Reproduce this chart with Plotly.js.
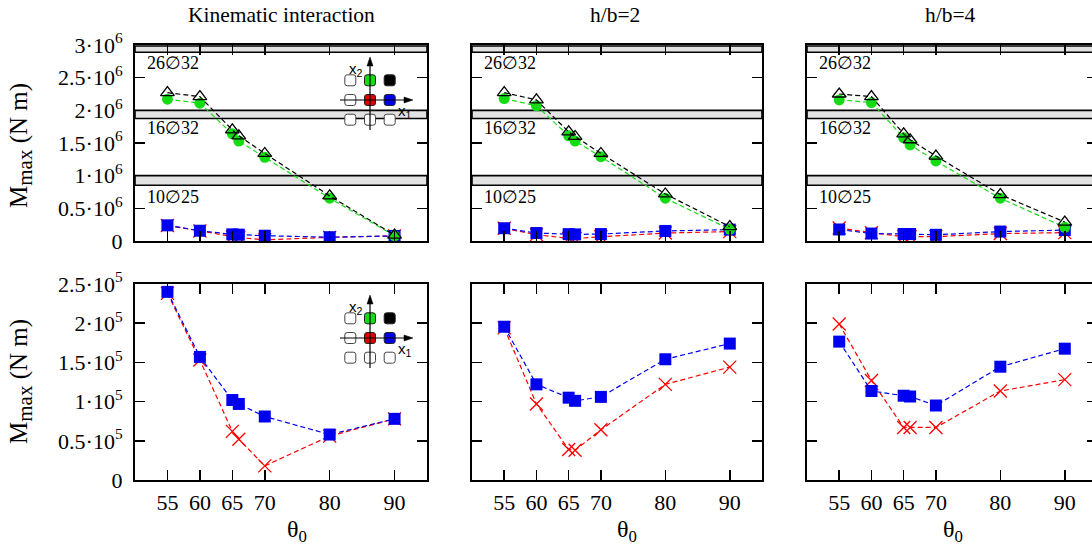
<!DOCTYPE html>
<html>
<head>
<meta charset="utf-8">
<script src="https://cdn.plot.ly/plotly-3.0.1.min.js"></script>
<style>
html,body{margin:0;padding:0;overflow:hidden;background:#fff;}
#chart{width:1100px;height:551px;}
</style>
</head>
<body>
<div id="chart"></div>
<script>
// ---------------- data ----------------
const theta = [55, 60, 65, 66, 70, 80, 90];
const xTicks = [55, 60, 65, 70, 80, 90];
const panelTitles = ["Kinematic interaction", "h/b=2", "h/b=4"];

// Kinematic interaction
const kinGreen = [2.17e6, 2.11e6, 1.64e6, 1.53e6, 1.28e6, 0.655e6, 0.08e6];
const kinBlack = [2.27e6, 2.21e6, 1.70e6, 1.61e6, 1.34e6, 0.69e6, 0.09e6];
const kinRed   = [2.38e5, 1.53e5, 0.62e5, 0.52e5, 0.18e5, 0.56e5, 0.78e5];
const kinBlue  = [2.40e5, 1.57e5, 1.02e5, 0.97e5, 0.81e5, 0.58e5, 0.78e5];
// h/b = 2
const hb2Green = [2.18e6, 2.07e6, 1.61e6, 1.53e6, 1.29e6, 0.655e6, 0.18e6];
const hb2Black = [2.27e6, 2.16e6, 1.67e6, 1.60e6, 1.34e6, 0.72e6, 0.22e6];
const hb2Red   = [1.94e5, 0.97e5, 0.39e5, 0.38e5, 0.64e5, 1.22e5, 1.44e5];
const hb2Blue  = [1.955e5, 1.22e5, 1.05e5, 1.01e5, 1.06e5, 1.54e5, 1.74e5];
// h/b = 4
const hb4Green = [2.16e6, 2.12e6, 1.58e6, 1.47e6, 1.225e6, 0.655e6, 0.21e6];
const hb4Black = [2.25e6, 2.21e6, 1.64e6, 1.55e6, 1.30e6, 0.71e6, 0.29e6];
const hb4Red   = [1.99e5, 1.27e5, 0.67e5, 0.67e5, 0.67e5, 1.135e5, 1.28e5];
const hb4Blue  = [1.765e5, 1.135e5, 1.075e5, 1.065e5, 0.95e5, 1.445e5, 1.675e5];

// capacity bands (N m) and labels
const bandLow  = [2.89e6, 1.875e6, 0.853e6];
const bandHigh = [2.985e6, 2.0e6, 1.0e6];
const bandLabels = ["26∅32", "16∅32", "10∅25"];
const bandLabelY = [2.72e6, 1.73e6, 0.67e6];

const topTickVals = [0, 0.5e6, 1e6, 1.5e6, 2e6, 2.5e6, 3e6];
const topTickText = ["0", "0.5·10<sup>6</sup>", "1·10<sup>6</sup>", "1.5·10<sup>6</sup>", "2·10<sup>6</sup>", "2.5·10<sup>6</sup>", "3·10<sup>6</sup>"];
const botTickVals = [0, 0.5e5, 1e5, 1.5e5, 2e5, 2.5e5];
const botTickText = ["0", "0.5·10<sup>5</sup>", "1·10<sup>5</sup>", "1.5·10<sup>5</sup>", "2·10<sup>5</sup>", "2.5·10<sup>5</sup>"];

// ---------------- layout helpers ----------------
const W = 1100, H = 551;
const fx = p => p / W;
const fy = p => 1 - p / H;
const colX = [[135, 427], [472, 762], [807, 1097]];
const rowY = [[45, 241], [284, 480]];

const SERIF = "Liberation Serif";
const SANS = "Liberation Sans";
const GREEN = "#14dc14", BLACK = "#000000", RED = "#ff0000", BLUE = "#0000f0";
const DASH = "5px,3px";

const groups = [
  {green: kinGreen, black: kinBlack, red: kinRed, blue: kinBlue},
  {green: hb2Green, black: hb2Black, red: hb2Red, blue: hb2Blue},
  {green: hb4Green, black: hb4Black, red: hb4Red, blue: hb4Blue}
];

const traces = [];
function mk(x, y, xa, ya, kind) {
  const t = {x: x, y: y, xaxis: xa, yaxis: ya, type: "scatter", mode: "lines+markers",
             showlegend: false, hoverinfo: "skip"};
  if (kind === "red") {
    t.line = {color: RED, width: 1.2, dash: DASH};
    t.marker = {symbol: "x-thin-open", size: 13, color: RED, line: {color: RED, width: 1.3}};
  } else if (kind === "blue") {
    t.line = {color: BLUE, width: 1.2, dash: DASH};
    t.marker = {symbol: "square", size: 12, color: BLUE, line: {width: 0}};
  } else if (kind === "green") {
    t.line = {color: GREEN, width: 1.2, dash: DASH};
    t.marker = {symbol: "circle", size: 11, color: GREEN, line: {width: 0}};
  } else {
    t.line = {color: BLACK, width: 1.2, dash: DASH};
    t.marker = {symbol: "triangle-up-open", size: 12, color: BLACK, line: {color: BLACK, width: 1.3}};
  }
  return t;
}

groups.forEach((g, i) => {
  const xt = "x" + (i + 1), yt = "y" + (i + 1);
  const xb = "x" + (i + 4), yb = "y" + (i + 4);
  traces.push(mk(theta, g.red, xt, yt, "red"));
  traces.push(mk(theta, g.blue, xt, yt, "blue"));
  traces.push(mk(theta, g.green, xt, yt, "green"));
  traces.push(mk(theta, g.black, xt, yt, "black"));
  traces.push(mk(theta, g.red, xb, yb, "red"));
  traces.push(mk(theta, g.blue, xb, yb, "blue"));
});

const layout = {
  width: W, height: H,
  margin: {l: 0, r: 0, t: 0, b: 0},
  paper_bgcolor: "#fff", plot_bgcolor: "#fff",
  font: {family: SERIF, size: 21, color: "#000"},
  showlegend: false,
  shapes: [], annotations: []
};

function axisCommon() {
  return {showline: true, linecolor: "#000", linewidth: 2, mirror: "ticks",
          ticks: "inside", ticklen: 10, tickwidth: 1.5, tickcolor: "#000",
          showgrid: false, zeroline: false, fixedrange: true,
          tickfont: {family: SERIF, size: 22, color: "#000"}};
}

for (let r = 0; r < 2; r++) {
  for (let c = 0; c < 3; c++) {
    const n = r * 3 + c + 1;
    const xa = Object.assign(axisCommon(), {
      domain: [fx(colX[c][0]), fx(colX[c][1])], anchor: "y" + n,
      range: [50, 95], tickmode: "array", tickvals: xTicks,
      ticktext: xTicks.map(String), showticklabels: r === 1, ticklabelstandoff: 2
    });
    const ya = Object.assign(axisCommon(), {
      domain: [fy(rowY[r][1]), fy(rowY[r][0])], anchor: "x" + n,
      range: r === 0 ? [0, 3e6] : [0, 2.5e5], tickmode: "array",
      tickvals: r === 0 ? topTickVals : botTickVals,
      ticktext: r === 0 ? topTickText : botTickText,
      showticklabels: c === 0, ticklabelstandoff: 6
    });
    layout["xaxis" + n] = xa;
    layout["yaxis" + n] = ya;
  }
}

// capacity bands and their labels in top panels
for (let c = 0; c < 3; c++) {
  const n = c + 1;
  for (let b = 0; b < bandLow.length; b++) {
    layout.shapes.push({type: "rect", xref: "x" + n + " domain", yref: "y" + n,
      x0: 0, x1: 1, y0: bandLow[b], y1: bandHigh[b], layer: "below",
      fillcolor: "#e2e2e2", line: {color: "#000", width: 1.6}});
    layout.annotations.push({xref: "x" + n + " domain", yref: "y" + n, x: 0.034, y: bandLabelY[b],
      xanchor: "left", yanchor: "middle", showarrow: false, text: bandLabels[b],
      font: {family: SERIF, size: 18, color: "#000"}});
  }
}

// panel titles
const titleX = [281, 615, 950];
panelTitles.forEach((t, c) => {
  layout.annotations.push({xref: "paper", yref: "paper", x: fx(titleX[c]), y: fy(15),
    xanchor: "center", yanchor: "middle", showarrow: false, text: t,
    font: {family: SERIF, size: 21.5, color: "#000"}});
});

// x-axis titles
const xTitleX = [297, 627, 953];
xTitleX.forEach(px => {
  layout.annotations.push({xref: "paper", yref: "paper", x: fx(px), y: fy(531),
    xanchor: "center", yanchor: "middle", showarrow: false, text: "θ<sub>0</sub>",
    font: {family: SERIF, size: 24, color: "#000"}});
});

// y-axis titles
[146, 382].forEach(py => {
  layout.annotations.push({xref: "paper", yref: "paper", x: fx(21), y: fy(py),
    xanchor: "center", yanchor: "middle", showarrow: false, textangle: -90,
    text: "M<sub><span style=\"font-size:21px\">max</span></sub> (N m)",
    font: {family: SERIF, size: 25, color: "#000"}});
});

// pile-group insets
function sqPath(cx, cy, s, r) {
  const x0 = cx - s / 2, x1 = cx + s / 2, y0 = cy - s / 2, y1 = cy + s / 2;
  const P = (x, y) => fx(x) + "," + fy(y);
  return "M" + P(x0 + r, y0) + " L" + P(x1 - r, y0) + " Q" + P(x1, y0) + " " + P(x1, y0 + r) +
         " L" + P(x1, y1 - r) + " Q" + P(x1, y1) + " " + P(x1 - r, y1) +
         " L" + P(x0 + r, y1) + " Q" + P(x0, y1) + " " + P(x0, y1 - r) +
         " L" + P(x0, y0 + r) + " Q" + P(x0, y0) + " " + P(x0 + r, y0) + " Z";
}
function inset(cy) {
  const cx = 370, d = 19.7;
  const fills = {"0,1": GREEN, "1,1": "#000000", "0,0": "#e00000", "1,0": "#0000e6"};
  for (let i = -1; i <= 1; i++) {
    for (let j = -1; j <= 1; j++) {
      const key = i + "," + j;
      const f = fills[key];
      layout.shapes.push({type: "path", xref: "paper", yref: "paper",
        path: sqPath(cx + i * d, cy - j * d, 11, 2.5),
        fillcolor: f || "#ffffff", line: {color: f ? "#222" : "#444", width: 1}});
    }
  }
  // axes
  layout.shapes.push({type: "line", xref: "paper", yref: "paper",
    x0: fx(cx), x1: fx(cx), y0: fy(cy + 30), y1: fy(cy - 36), line: {color: "#000", width: 1.2}});
  layout.shapes.push({type: "line", xref: "paper", yref: "paper",
    x0: fx(cx - 30), x1: fx(cx + 36), y0: fy(cy), y1: fy(cy), line: {color: "#000", width: 1.2}});
  // arrowheads
  layout.shapes.push({type: "path", xref: "paper", yref: "paper",
    path: "M" + fx(cx) + "," + fy(cy - 43) + " L" + fx(cx - 3) + "," + fy(cy - 34) +
          " L" + fx(cx + 3) + "," + fy(cy - 34) + " Z",
    fillcolor: "#000", line: {color: "#000", width: 0.5}});
  layout.shapes.push({type: "path", xref: "paper", yref: "paper",
    path: "M" + fx(cx + 43) + "," + fy(cy) + " L" + fx(cx + 34) + "," + fy(cy - 3) +
          " L" + fx(cx + 34) + "," + fy(cy + 3) + " Z",
    fillcolor: "#000", line: {color: "#000", width: 0.5}});
  layout.annotations.push({xref: "paper", yref: "paper", x: fx(356), y: fy(cy - 31),
    xanchor: "center", yanchor: "middle", showarrow: false, text: "x<sub>2</sub>",
    font: {family: SANS, size: 15, color: "#000"}});
  layout.annotations.push({xref: "paper", yref: "paper", x: fx(405), y: fy(cy + 11),
    xanchor: "center", yanchor: "middle", showarrow: false, text: "x<sub>1</sub>",
    font: {family: SANS, size: 15, color: "#000"}});
}
inset(100);
inset(338);

Plotly.newPlot("chart", traces, layout, {staticPlot: true, displayModeBar: false});
</script>
</body>
</html>
